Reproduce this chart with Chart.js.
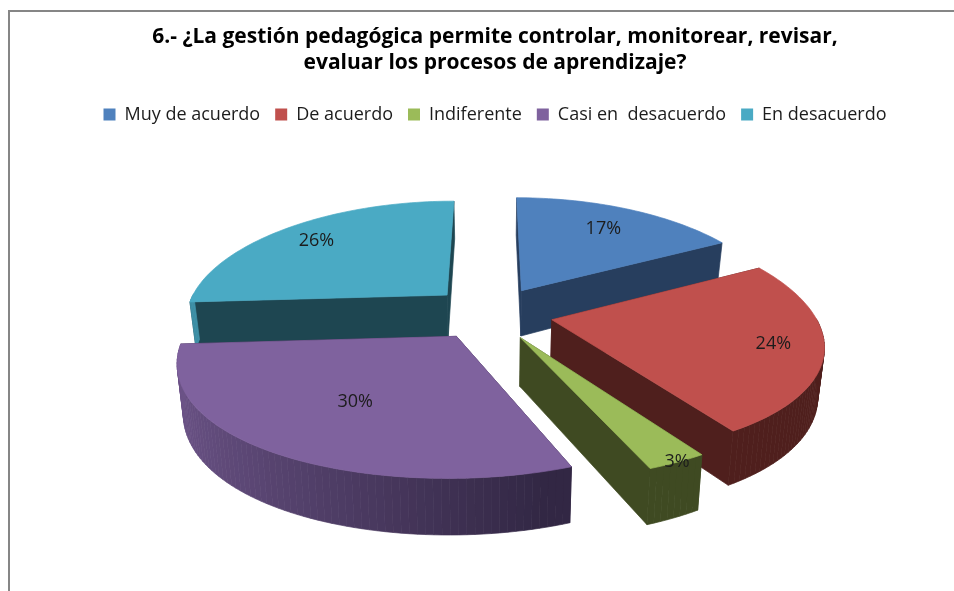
<!DOCTYPE html>
<html>
<head>
<meta charset="utf-8">
<title>Gestión pedagógica</title>
<script src="https://cdn.jsdelivr.net/npm/chart.js@4"></script>
<style>
html, body { margin: 0; padding: 0; background: #fff; overflow: hidden; }
#frame { position: absolute; left: 8px; top: 10px; width: 946px; height: 581px; box-sizing: border-box;
  border-left: 2px solid #868686; border-top: 2px solid #868686; }
#chart { position: absolute; left: 0; top: 0; }
</style>
</head>
<body>
<div id="frame"></div>
<canvas id="chart" width="954" height="591"></canvas>
<script>
var titleLines = ['6.- ¿La gestión pedagógica permite controlar, monitorear, revisar,', 'evaluar los procesos de aprendizaje?'];
var categories = ['Muy de acuerdo', 'De acuerdo', 'Indiferente', 'Casi en  desacuerdo', 'En desacuerdo'];
var values = [17, 24, 3, 30, 26];
var topColors = ['#4f81bd', '#c0504d', '#9bbb59', '#7f629e', '#4aaac4'];
var sideColors = ['#273e5e', '#4f1f1d', '#3f4a22', '#322744', '#1e4651'];

// how the flat pie is laid over in perspective
var view = { cx: 491, cy: 313, rx: 262, ry: 113, px: 0.19, py: 0.15, explode: 0.237, depth: 47 };
// where the % labels sit: fraction of the radius along the slice middle, then a small nudge
var labelRadius = [0.74, 0.82, 1.0, 0.6, 0.8];
var labelNudge = [[0, 0], [0, 0], [0, 0], [0, 0], [0, 0]];

function project(u, v, z) {
  return {
    x: view.cx + view.rx * u / (1 - view.px * v) * (1 - 0.02 * z),
    y: view.cy + view.ry * v / (1 - view.py * v) + z * (view.depth + 8 * v)
  };
}

function hex(c) {
  return [parseInt(c.substr(1, 2), 16), parseInt(c.substr(3, 2), 16), parseInt(c.substr(5, 2), 16)];
}
function mix(a, b, t) {
  var x = hex(a), y = hex(b);
  return 'rgb(' + [0, 1, 2].map(function (i) { return Math.round(x[i] + (y[i] - x[i]) * t); }).join(',') + ')';
}

function poly(ctx, pts, color) {
  ctx.beginPath();
  pts.forEach(function (p, i) { if (i) ctx.lineTo(p.x, p.y); else ctx.moveTo(p.x, p.y); });
  ctx.closePath();
  ctx.fillStyle = color;
  ctx.strokeStyle = color;
  ctx.lineWidth = 0.7;
  ctx.fill();
  ctx.stroke();
}

var pie3d = {
  id: 'pie3d',
  beforeDatasetsDraw: function (chart) {
    var ctx = chart.ctx;
    var arcs = chart.getDatasetMeta(0).data;
    var slices = arcs.map(function (arc, i) {
      var mid = (arc.startAngle + arc.endAngle) / 2;
      return { i: i, a0: arc.startAngle, a1: arc.endAngle, mid: mid,
        ox: view.explode * Math.cos(mid), oy: view.explode * Math.sin(mid) };
    });
    // far slices first
    slices.slice().sort(function (a, b) { return a.oy - b.oy; }).forEach(function (s) {
      var top = topColors[s.i], side = sideColors[s.i];
      var rimAt = function (a, z) { return project(s.ox + Math.cos(a), s.oy + Math.sin(a), z); };
      var apex0 = project(s.ox, s.oy, 0), apex1 = project(s.ox, s.oy, 1);

      var faces = [s.a0, s.a1].sort(function (a, b) { return Math.sin(a) - Math.sin(b); });
      faces.forEach(function (a) {
        poly(ctx, [apex0, rimAt(a, 0), rimAt(a, 1), apex1], side);
      });

      var steps = Math.max(4, Math.ceil((s.a1 - s.a0) * 40));
      var da = (s.a1 - s.a0) / steps, k, a;
      for (k = 0; k < steps; k++) {
        a = s.a0 + k * da;
        if (Math.sin(a + da / 2) < -0.02) continue;
        var t = Math.min(1, Math.max(0, (0.3 - Math.cos(a)) / 1.3)) * 0.75;
        poly(ctx, [rimAt(a, 0), rimAt(a + da, 0), rimAt(a + da, 1), rimAt(a, 1)], mix(side, top, t));
      }

      var face = [apex0];
      for (k = 0; k <= steps; k++) face.push(rimAt(s.a0 + k * da, 0));
      poly(ctx, face, top);
    });

    var total = values.reduce(function (a, b) { return a + b; }, 0);
    ctx.font = '18px "Open Sans"';
    ctx.fillStyle = '#1c1c1c';
    ctx.textAlign = 'center';
    ctx.textBaseline = 'middle';
    slices.forEach(function (s) {
      var r = labelRadius[s.i];
      var p = project(s.ox + r * Math.cos(s.mid), s.oy + r * Math.sin(s.mid), 0);
      ctx.fillText(Math.round(values[s.i] / total * 100) + '%', p.x + labelNudge[s.i][0], p.y + labelNudge[s.i][1]);
    });
    return false;
  }
};

new Chart(document.getElementById('chart'), {
  type: 'pie',
  data: {
    labels: categories,
    datasets: [{ data: values, backgroundColor: topColors, borderWidth: 0 }]
  },
  options: {
    responsive: false,
    animation: false,
    layout: { padding: { left: 36, top: 24 } },
    plugins: {
      title: {
        display: true,
        text: titleLines,
        color: '#000',
        font: { family: '"Open Sans"', size: 21, weight: 'bold', lineHeight: 1.25 },
        padding: { top: 0, bottom: 14 }
      },
      legend: {
        position: 'top',
        labels: {
          color: '#1c1c1c',
          font: { family: '"Open Sans"', size: 18 },
          boxWidth: 12,
          boxHeight: 12,
          padding: 15
        }
      },
      tooltip: { enabled: false }
    }
  },
  plugins: [pie3d]
});
</script>
</body>
</html>
